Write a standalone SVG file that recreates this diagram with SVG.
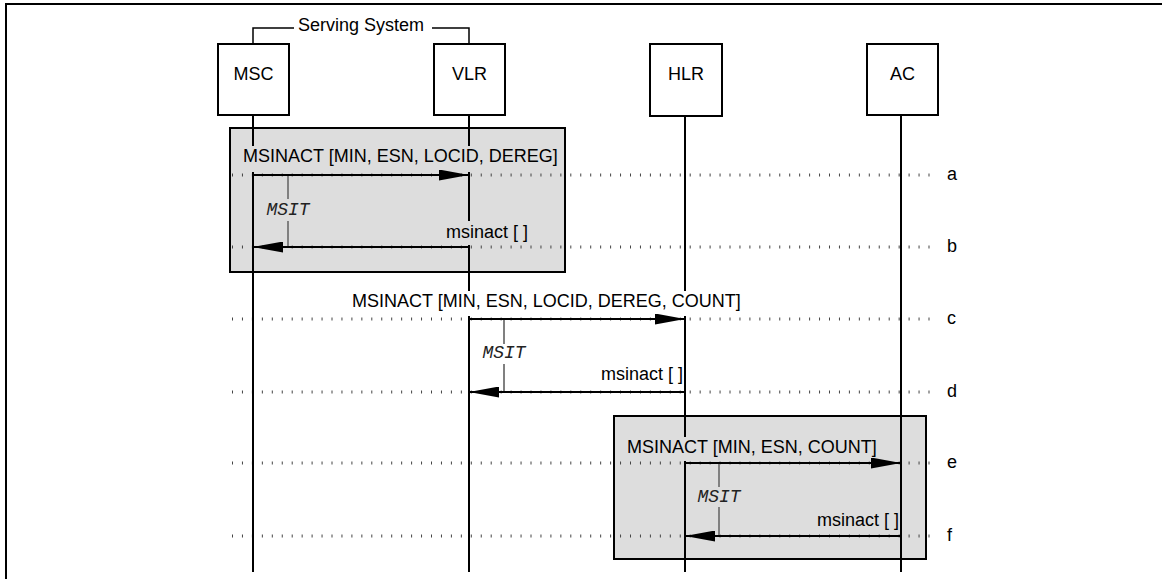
<svg xmlns="http://www.w3.org/2000/svg" width="1162" height="579" viewBox="0 0 1162 579">
  <defs>
    <marker id="arrow" markerUnits="userSpaceOnUse" markerWidth="30" markerHeight="11" refX="30" refY="5.5" orient="auto">
      <path d="M0,0 L30,5.5 L0,11 Z" fill="#000"/>
    </marker>
  </defs>
  <style>
    .frame { fill: none; stroke: #000; stroke-width: 2; }
    .box { fill: #fff; stroke: #000; stroke-width: 2; }
    .group { fill: #dddddd; stroke: #000; stroke-width: 2; }
    .life { stroke: #000; stroke-width: 2; }
    .row { stroke: #444; stroke-width: 3; stroke-dasharray: 1 8.95; }
    .msg { stroke: #000; stroke-width: 2; fill: none; marker-end: url(#arrow); }
    .timer { stroke: #808080; stroke-width: 2; }
    .lbl { font-family: "Liberation Sans", Arial, sans-serif; font-size: 18px; fill: #000; }
    .mid { text-anchor: middle; }
    .tmr { font-family: "Liberation Mono", "Courier New", monospace; font-style: italic; font-size: 18px; fill: #222; text-anchor: middle; }
    .bgG { fill: #dddddd; }
    .bgW { fill: #ffffff; }
    .bracket { fill: none; stroke: #000; stroke-width: 1.5; }
  </style>

  <rect width="1162" height="579" fill="#fff"/>
  <path class="frame" d="M6,579 V4 H1162"/>

  <g id="shading">
    <rect class="group" x="230" y="128" width="335" height="144"/>
    <rect class="group" x="614" y="416" width="312" height="143"/>
  </g>

  <g id="rows">
    <line class="row" x1="232" y1="175" x2="931" y2="175"/>
    <line class="row" x1="232" y1="247" x2="931" y2="247"/>
    <line class="row" x1="232" y1="319" x2="931" y2="319"/>
    <line class="row" x1="232" y1="392" x2="931" y2="392"/>
    <line class="row" x1="232" y1="463" x2="931" y2="463"/>
    <line class="row" x1="232" y1="536" x2="931" y2="536"/>
    <text class="lbl" x="947" y="179.5">a</text>
    <text class="lbl" x="947" y="251.5">b</text>
    <text class="lbl" x="947" y="323.5">c</text>
    <text class="lbl" x="947" y="396.5">d</text>
    <text class="lbl" x="947" y="467.5">e</text>
    <text class="lbl" x="947" y="540.5">f</text>
  </g>

  <g id="serving-system">
    <path class="bracket" d="M253,44 V28 H294"/>
    <path class="bracket" d="M432,28 H469 V44"/>
    <text class="lbl mid" x="361" y="31">Serving System</text>
  </g>

  <g id="MSC">
    <line class="life" x1="253" y1="115" x2="253" y2="572"/>
    <rect class="box" x="218" y="44" width="71" height="71"/>
    <text class="lbl mid" x="253.5" y="80">MSC</text>
  </g>
  <g id="VLR">
    <line class="life" x1="469" y1="115" x2="469" y2="572"/>
    <rect class="box" x="434" y="44" width="71" height="71"/>
    <text class="lbl mid" x="469.5" y="80">VLR</text>
  </g>
  <g id="HLR">
    <line class="life" x1="685" y1="115" x2="685" y2="572"/>
    <rect class="box" x="650" y="44" width="72" height="72"/>
    <text class="lbl mid" x="686" y="80">HLR</text>
  </g>
  <g id="AC">
    <line class="life" x1="901" y1="115" x2="901" y2="572"/>
    <rect class="box" x="867" y="44" width="71" height="71"/>
    <text class="lbl mid" x="902.5" y="80">AC</text>
  </g>

  <g id="timers">
    <line class="timer" x1="288" y1="175" x2="288" y2="199"/>
    <line class="timer" x1="288" y1="221" x2="288" y2="247"/>
    <text class="tmr" x="288" y="215">MSIT</text>
    <line class="timer" x1="504" y1="319" x2="504" y2="344"/>
    <line class="timer" x1="504" y1="364" x2="504" y2="392"/>
    <text class="tmr" x="504" y="358">MSIT</text>
    <line class="timer" x1="719" y1="463" x2="719" y2="487"/>
    <line class="timer" x1="719" y1="507" x2="719" y2="536"/>
    <text class="tmr" x="719" y="502">MSIT</text>
  </g>

  <g id="connectors">
    <g id="msg-a">
      <rect class="bgG" x="241" y="146" width="320" height="26"/>
      <text class="lbl" x="243" y="162">MSINACT [MIN, ESN, LOCID, DEREG]</text>
      <line class="msg" x1="253" y1="175" x2="469" y2="175"/>
    </g>
    <g id="msg-b">
      <rect class="bgG" x="444" y="221" width="84" height="24"/>
      <text class="lbl" x="446" y="238">msinact [ ]</text>
      <line class="msg" x1="469" y1="247" x2="253" y2="247"/>
    </g>
    <g id="msg-c">
      <rect class="bgW" x="350" y="291" width="390" height="25"/>
      <text class="lbl" x="352" y="307">MSINACT [MIN, ESN, LOCID, DEREG, COUNT]</text>
      <line class="msg" x1="469" y1="319" x2="685" y2="319"/>
    </g>
    <g id="msg-d">
      <text class="lbl" x="601" y="380">msinact [ ]</text>
      <line class="msg" x1="685" y1="392" x2="469" y2="392"/>
    </g>
    <g id="msg-e">
      <rect class="bgG" x="625" y="437" width="253" height="24"/>
      <text class="lbl" x="627" y="453">MSINACT [MIN, ESN, COUNT]</text>
      <line class="msg" x1="685" y1="463" x2="901" y2="463"/>
    </g>
    <g id="msg-f">
      <rect class="bgG" x="815" y="510" width="83" height="24"/>
      <text class="lbl" x="817" y="526">msinact [ ]</text>
      <line class="msg" x1="901" y1="536" x2="685" y2="536"/>
    </g>
  </g>
</svg>
